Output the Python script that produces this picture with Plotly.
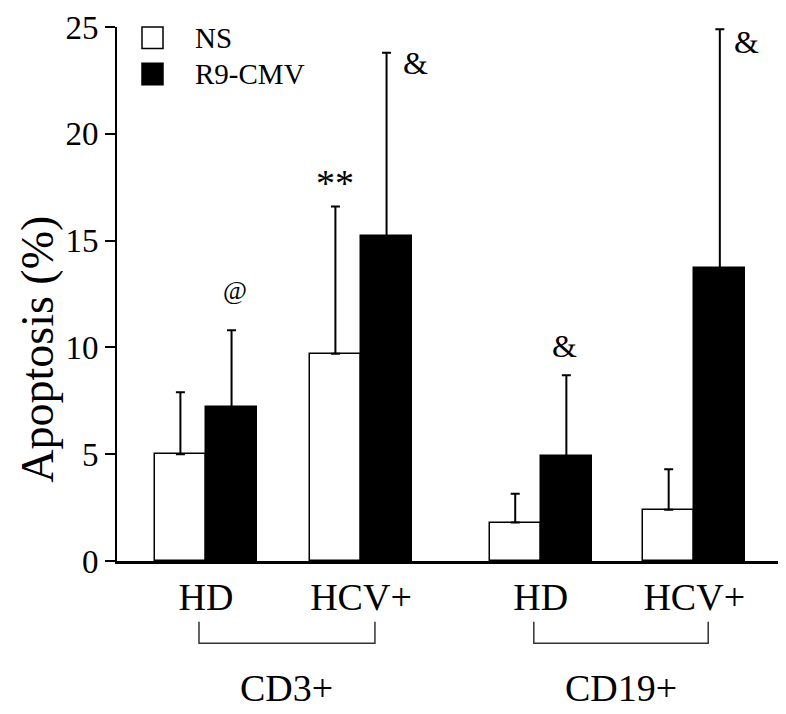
import plotly.graph_objects as go

# ---- data ----
groups = ["HD", "HCV+", "HD", "HCV+"]
cell_types = ["CD3+", "CD19+"]
ns_mean = [5.0, 9.7, 1.8, 2.4]
ns_err = [2.9, 6.9, 1.35, 1.9]
r9_mean = [7.2, 15.2, 4.9, 13.7]
r9_err = [3.6, 8.6, 3.8, 11.2]
sig_labels = ["@", "**", "&", "&", "&"]

# ---- layout constants ----
xpos = [1.0, 2.0, 3.16, 4.15]
bw = 0.33
FONT = "Liberation Serif, Times New Roman, serif"
PW, PH = 667.0, 546.0  # plot area size in px

fig = go.Figure()
fig.add_trace(go.Bar(
    x=xpos, y=ns_mean, name="NS", width=bw, offset=-bw,
    marker=dict(color="white", line=dict(color="black", width=1.5)),
    error_y=dict(type="data", symmetric=False, array=ns_err, arrayminus=[0]*4,
                 color="black", thickness=2, width=4.5),
    showlegend=False))
fig.add_trace(go.Bar(
    x=xpos, y=r9_mean, name="R9-CMV", width=bw, offset=0,
    marker=dict(color="black", line=dict(color="black", width=1.5)),
    error_y=dict(type="data", symmetric=False, array=r9_err, arrayminus=[0]*4,
                 color="black", thickness=2, width=4.5),
    showlegend=False))

# significance marks (placed relative to bars)
sig_pos = [
    (xpos[0] + 0.19, r9_mean[0] + r9_err[0] + 1.85, 26),
    (xpos[1] - 0.17, ns_mean[1] + ns_err[1] + 1.1, 38),
    (xpos[1] + 0.35, r9_mean[1] + r9_err[1] - 0.5, 32),
    (xpos[2] + 0.155, r9_mean[2] + r9_err[2] + 1.35, 32),
    (xpos[3] + 0.34, r9_mean[3] + r9_err[3] - 0.6, 32),
]
for lab, (x, y, s) in zip(sig_labels, sig_pos):
    fig.add_annotation(x=x, y=y, text=lab, showarrow=False,
                       font=dict(family=FONT, size=s, color="black"))

# brackets and cell-type labels
def py(pix_below_axis):
    return -pix_below_axis / PH

for i, ct in enumerate(cell_types):
    x0 = xpos[2*i] - 0.045
    x1 = xpos[2*i+1] + 0.09
    fig.add_shape(type="path",
                  path=f"M {x0},{py(62)} L {x0},{py(84)} L {x1},{py(84)} L {x1},{py(62)}",
                  xref="x", yref="paper", line=dict(color="#333", width=1.5))
    fig.add_annotation(x=(x0 + x1) / 2, y=py(130), xref="x", yref="paper",
                       text=ct, showarrow=False, yanchor="middle",
                       font=dict(family=FONT, size=38, color="black"))

# legend (drawn)
leg = [("NS", "white", 0), ("R9-CMV", "black", 37)]
for name, col, dy in leg:
    y0 = 1 - (0 + dy) / PH
    y1 = 1 - (22 + dy) / PH
    fig.add_shape(type="rect", xref="paper", yref="paper",
                  x0=25/PW, x1=46/PW, y0=y1, y1=y0,
                  fillcolor=col, line=dict(color="black", width=1.5))
    fig.add_annotation(xref="paper", yref="paper", x=76/PW, y=(y0+y1)/2,
                       text=name, showarrow=False, xanchor="left", yanchor="middle",
                       font=dict(family=FONT, size=29, color="black"))

# y title
fig.add_annotation(xref="paper", yref="paper", x=-79/PW, y=1 - (345-15)/PH,
                   text="Apoptosis (%)", textangle=-90, showarrow=False,
                   xanchor="center", yanchor="middle",
                   font=dict(family=FONT, size=46, color="black"))

fig.update_layout(
    width=778, height=706,
    margin=dict(l=109, r=2, t=7, b=153),
    paper_bgcolor="white", plot_bgcolor="white",
    font=dict(family=FONT, color="black"),
    bargap=0,
    xaxis=dict(range=[0.426, 4.729], tickvals=xpos, ticktext=groups,
               showline=True, linecolor="black", linewidth=3,
               ticks="", showgrid=False, zeroline=False,
               ticklabeloverflow="allow",
               tickfont=dict(family=FONT, size=38, color="black")),
    yaxis=dict(range=[0, 25], tickvals=[0, 5, 10, 15, 20, 25],
               showline=True, linecolor="black", linewidth=2,
               ticks="outside", ticklen=10, tickwidth=2, tickcolor="black",
               showgrid=False, zeroline=False,
               ticklabeloverflow="allow",
               tickfont=dict(family=FONT, size=33, color="black")),
)

fig.write_html("out.html")
